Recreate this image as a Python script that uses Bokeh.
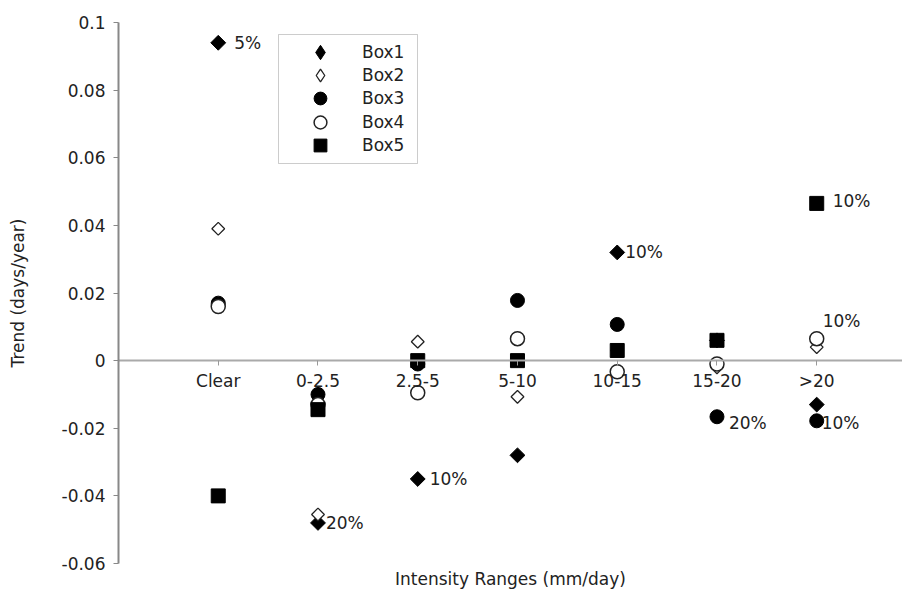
import math
from bokeh.plotting import figure
from bokeh.models import (Range1d, FixedTicker, Legend, LegendItem, Title, ColumnDataSource,
                          BoxAnnotation)
from bokeh.core.properties import value
from bokeh.embed import file_html
from bokeh.resources import INLINE

categories = ["Clear", "0-2.5", "2.5-5", "5-10", "10-15", "15-20", ">20"]
box1 = [0.094, -0.048, -0.035, -0.028, 0.032, 0.006, -0.013]
box2 = [0.039, -0.0455, 0.0056, -0.0107, 0.003, -0.002, 0.004]
box3 = [0.017, -0.010, -0.001, 0.0178, 0.0107, -0.0166, -0.0178]
box4 = [0.016, -0.013, -0.0095, 0.0065, -0.0033, -0.001, 0.0065]
box5 = [-0.040, -0.0145, 0.0, 0.0, 0.003, 0.006, 0.0465]
series_names = ["Box1", "Box2", "Box3", "Box4", "Box5"]

# significance annotations: (category, value anchor, text)
ann_cat = ["Clear", "0-2.5", "2.5-5", "10-15", "15-20", ">20", ">20", ">20"]
ann_val = [0.094, -0.048, -0.035, 0.032, -0.0166, -0.0178, 0.0465, 0.0065]
ann_text = ["5%", "20%", "10%", "10%", "20%", "10%", "10%", "10%"]

y_ticks = [-0.06, -0.04, -0.02, 0.0, 0.02, 0.04, 0.06, 0.08, 0.1]
y_tick_labels = ["-0.06", "-0.04", "-0.02", "0", "0.02", "0.04", "0.06", "0.08", "0.1"]

FONT = "DejaVu Sans"
FS = "17px"
TXT = "#222222"
xs = [i + 1 for i in range(len(categories))]

p = figure(width=902, height=592, output_backend="svg", toolbar_location=None,
           x_range=Range1d(0, 7.86), y_range=Range1d(-0.06, 0.1),
           min_border_left=118, min_border_right=0, min_border_top=22, min_border_bottom=29)
p.outline_line_color = None
p.background_fill_color = "white"
p.border_fill_color = "white"

p.xgrid.visible = False
p.ygrid.ticker = FixedTicker(ticks=[-0.06, 0.1])
p.ygrid.grid_line_color = "#d0d0d0"
p.ygrid.grid_line_width = 2

xa = p.xaxis[0]
xa.fixed_location = 0
xa.ticker = FixedTicker(ticks=xs)
xa.major_label_overrides = {x: c for x, c in zip(xs, categories)}
xa.axis_line_color = "#aaaaaa"
xa.axis_line_width = 2
xa.major_tick_line_color = "#999999"
xa.major_tick_in = 0
xa.major_tick_out = 5
xa.minor_tick_line_color = None
xa.major_label_text_font = FONT
xa.major_label_text_font_size = FS
xa.major_label_text_color = TXT
xa.major_label_standoff = 5

ya = p.yaxis[0]
ya.ticker = FixedTicker(ticks=y_ticks)
ya.major_label_overrides = {t: l for t, l in zip(y_ticks, y_tick_labels)}
ya.axis_line_color = "#888888"
ya.axis_line_width = 2
ya.major_tick_line_color = "#888888"
ya.major_tick_in = 0
ya.major_tick_out = 5
ya.minor_tick_line_color = None
ya.major_label_text_font = FONT
ya.major_label_text_font_size = FS
ya.major_label_text_color = TXT
ya.major_label_standoff = 8
ya.axis_label = "Trend (days/year)"
ya.axis_label_text_font = FONT
ya.axis_label_text_font_size = FS
ya.axis_label_text_font_style = "normal"
ya.axis_label_text_color = TXT
ya.axis_label_standoff = 31

p.add_layout(Title(text="Intensity Ranges (mm/day)", align="center", text_font=FONT,
                   text_font_size=FS, text_font_style="normal", text_color=TXT,
                   standoff=6), "below")

ann_x = [categories.index(c) + 1 for c in ann_cat]
ann_dx = [16, 8, 12, 8, 12, 5, 16, 6]
ann_dy = [0, 0, 0, 0, 6, 2, -2, -18]
asrc = ColumnDataSource(dict(x=ann_x, y=ann_val, t=ann_text, dx=ann_dx, dy=ann_dy))
p.text(x="x", y="y", text="t", x_offset="dx", y_offset="dy", source=asrc,
       text_font=value(FONT), text_font_size=FS, text_color=TXT,
       text_baseline="middle", text_align="left")

r1 = p.scatter(xs, box1, marker="square", angle=math.pi / 4, size=10.5,
               fill_color="black", line_color="black")
r2 = p.scatter(xs, box2, marker="square", angle=math.pi / 4, size=9,
               fill_color="white", line_color="#222222", line_width=1.3)
r3 = p.scatter(xs, box3, marker="circle", size=14, fill_color="black", line_color="black")
r4 = p.scatter(xs, box4, marker="circle", size=14, fill_color="white", line_color="#222222", line_width=1.5)
r5 = p.scatter(xs, box5, marker="square", size=14, fill_color="black", line_color="black")

# legend swatches for the diamond series (legend glyphs ignore marker rotation)
l1 = p.scatter(xs, box1, marker="diamond", size=14, fill_color="black", line_color="black", visible=False)
l2 = p.scatter(xs, box2, marker="diamond", size=12, fill_color="white", line_color="#222222",
               line_width=1.3, visible=False)

# legend frame (screen units, relative to plot frame bottom-left)
p.add_layout(BoxAnnotation(left=160, right=299, bottom=400, top=529,
                           left_units="screen", right_units="screen",
                           bottom_units="screen", top_units="screen",
                           fill_color="white", fill_alpha=1,
                           line_color="#555555", line_width=1, level="annotation"))

legend_renderers = [l1, l2, r3, r4, r5]
glyph_boxes = [36, 32, 32, 32, 32]
for i, (name, rr, gh) in enumerate(zip(series_names, legend_renderers, glyph_boxes)):
    center = 52 + 23.2 * i            # screen y of the row centre
    lg = Legend(items=[LegendItem(label=name, renderers=[rr])],
                location=(202 - gh // 2, round(563 - center - gh / 2)))
    lg.border_line_color = None
    lg.background_fill_alpha = 0
    lg.inactive_fill_alpha = 0
    lg.label_text_font = FONT
    lg.label_text_font_size = FS
    lg.label_text_color = TXT
    lg.padding = 0
    lg.margin = 0
    lg.spacing = 0
    lg.glyph_width = gh
    lg.glyph_height = gh
    lg.label_height = gh
    lg.label_standoff = 42 - gh // 2
    lg.label_width = 46
    p.add_layout(lg, "center")

open("out.html", "w").write(file_html(p, INLINE))
